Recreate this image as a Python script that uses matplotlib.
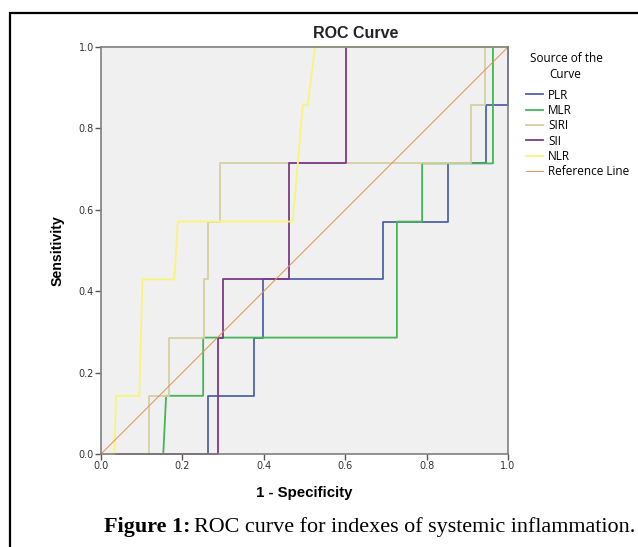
import numpy as np
import matplotlib
matplotlib.use('Agg')
import matplotlib.pyplot as plt
from matplotlib.patches import Rectangle

# 数据：各指标 ROC 曲线顶点 (1 - 特异度, 敏感度)
plr_x = [0, 0.264, 0.264, 0.376, 0.376, 0.398, 0.398, 0.693, 0.693, 0.852, 0.852, 0.947, 0.947, 1.0, 1.0]
plr_y = [0, 0, 0.143, 0.143, 0.286, 0.286, 0.429, 0.429, 0.571, 0.571, 0.714, 0.714, 0.857, 0.857, 1.0]

mlr_x = [0, 0.153, 0.16, 0.251, 0.251, 0.727, 0.727, 0.789, 0.789, 0.963, 0.963, 1.0]
mlr_y = [0, 0, 0.143, 0.143, 0.286, 0.286, 0.571, 0.571, 0.714, 0.714, 1.0, 1.0]

siri_x = [0, 0.119, 0.119, 0.166, 0.166, 0.252, 0.252, 0.264, 0.264, 0.293, 0.293, 0.910, 0.910, 0.943, 0.943, 1.0]
siri_y = [0, 0, 0.143, 0.143, 0.286, 0.286, 0.429, 0.429, 0.571, 0.571, 0.714, 0.714, 0.857, 0.857, 1.0, 1.0]

sii_x = [0, 0.287, 0.287, 0.299, 0.299, 0.461, 0.461, 0.601, 0.601, 1.0]
sii_y = [0, 0, 0.286, 0.286, 0.429, 0.429, 0.714, 0.714, 1.0, 1.0]

nlr_x = [0, 0.033, 0.037, 0.094, 0.098, 0.102, 0.18, 0.189, 0.471, 0.496, 0.508, 0.526, 1.0]
nlr_y = [0, 0, 0.143, 0.143, 0.286, 0.429, 0.429, 0.571, 0.571, 0.857, 0.857, 1.0, 1.0]

ref_x = [0, 1]
ref_y = [0, 1]

names = ['PLR', 'MLR', 'SIRI', 'SII', 'NLR']
colors = ['#5063aa', '#45b556', '#d4cfa2', '#7d3a87', '#f9f478']
ticks = [0.0, 0.2, 0.4, 0.6, 0.8, 1.0]
tick_labels = ['0.0', '0.2', '0.4', '0.6', '0.8', '1.0']

fig = plt.figure(figsize=(6.38, 5.47), dpi=100)
W, H = 638, 547
ax = fig.add_axes([101 / W, 1 - 454 / H, 407 / W, 407 / H])
ax.set_facecolor('#f0f0f0')

curves = [(plr_x, plr_y), (mlr_x, mlr_y), (siri_x, siri_y), (sii_x, sii_y), (nlr_x, nlr_y)]
for (cx, cy), name, c in zip(curves, names, colors):
    ax.plot(cx, cy, color=c, lw=1.3, label=name, clip_on=False)
ax.plot(ref_x, ref_y, color='#e8914a', lw=0.7, label='Reference Line', clip_on=False)

ax.set_xlim(0, 1)
ax.set_ylim(0, 1)
ax.set_xticks(ticks)
ax.set_xticklabels(tick_labels)
ax.set_yticks(ticks)
ax.set_yticklabels(tick_labels)
ax.tick_params(direction='out', length=4, width=1, color='#555555',
               labelsize=7, labelcolor='#333333', pad=1)
for s in ax.spines.values():
    s.set_color('#808080')
    s.set_linewidth(1.2)

fig.text(356 / W, 1 - 33 / H, 'ROC Curve', fontsize=11.5, fontweight='bold',
         family='Liberation Sans', ha='center', va='center', color='#222222')
ax.set_xlabel('1 - Specificity', fontsize=10.8, fontweight='bold', family='Liberation Sans', labelpad=11)
ax.set_ylabel('Sensitivity', fontsize=10.2, fontweight='bold', family='Liberation Sans', labelpad=10)

# 图例标题
fig.text(566 / W, 1 - 58 / H, 'Source of the', fontsize=8.5, family='Open Sans', ha='center', va='center')
fig.text(565 / W, 1 - 75 / H, 'Curve', fontsize=8.5, family='Open Sans', ha='center', va='center')
leg = ax.legend(loc='upper left', bbox_to_anchor=(1.045, 0.898),
                frameon=False, handlelength=1.45, handletextpad=0.4, labelspacing=0.2,
                borderaxespad=0, borderpad=0,
                prop={'family': 'Open Sans', 'size': 8.5})

# 外框
fig.patches.append(Rectangle((10 / W, -0.1), 1.0, 1 - 13 / H + 0.1, transform=fig.transFigure,
                             fill=False, edgecolor='black', lw=1.6))

t1 = fig.text(104 / W, 1 - 527 / H, 'Figure 1:', fontsize=15.9, fontweight='bold',
              family='Liberation Serif', va='center', ha='left')
fig.canvas.draw()
bb = t1.get_window_extent()
fig.text((bb.x1 + 4) / W, 1 - 527 / H, 'ROC curve for indexes of systemic inflammation.',
         fontsize=15.9, family='Liberation Serif', va='center', ha='left')

fig.savefig('out.png', dpi=100)
